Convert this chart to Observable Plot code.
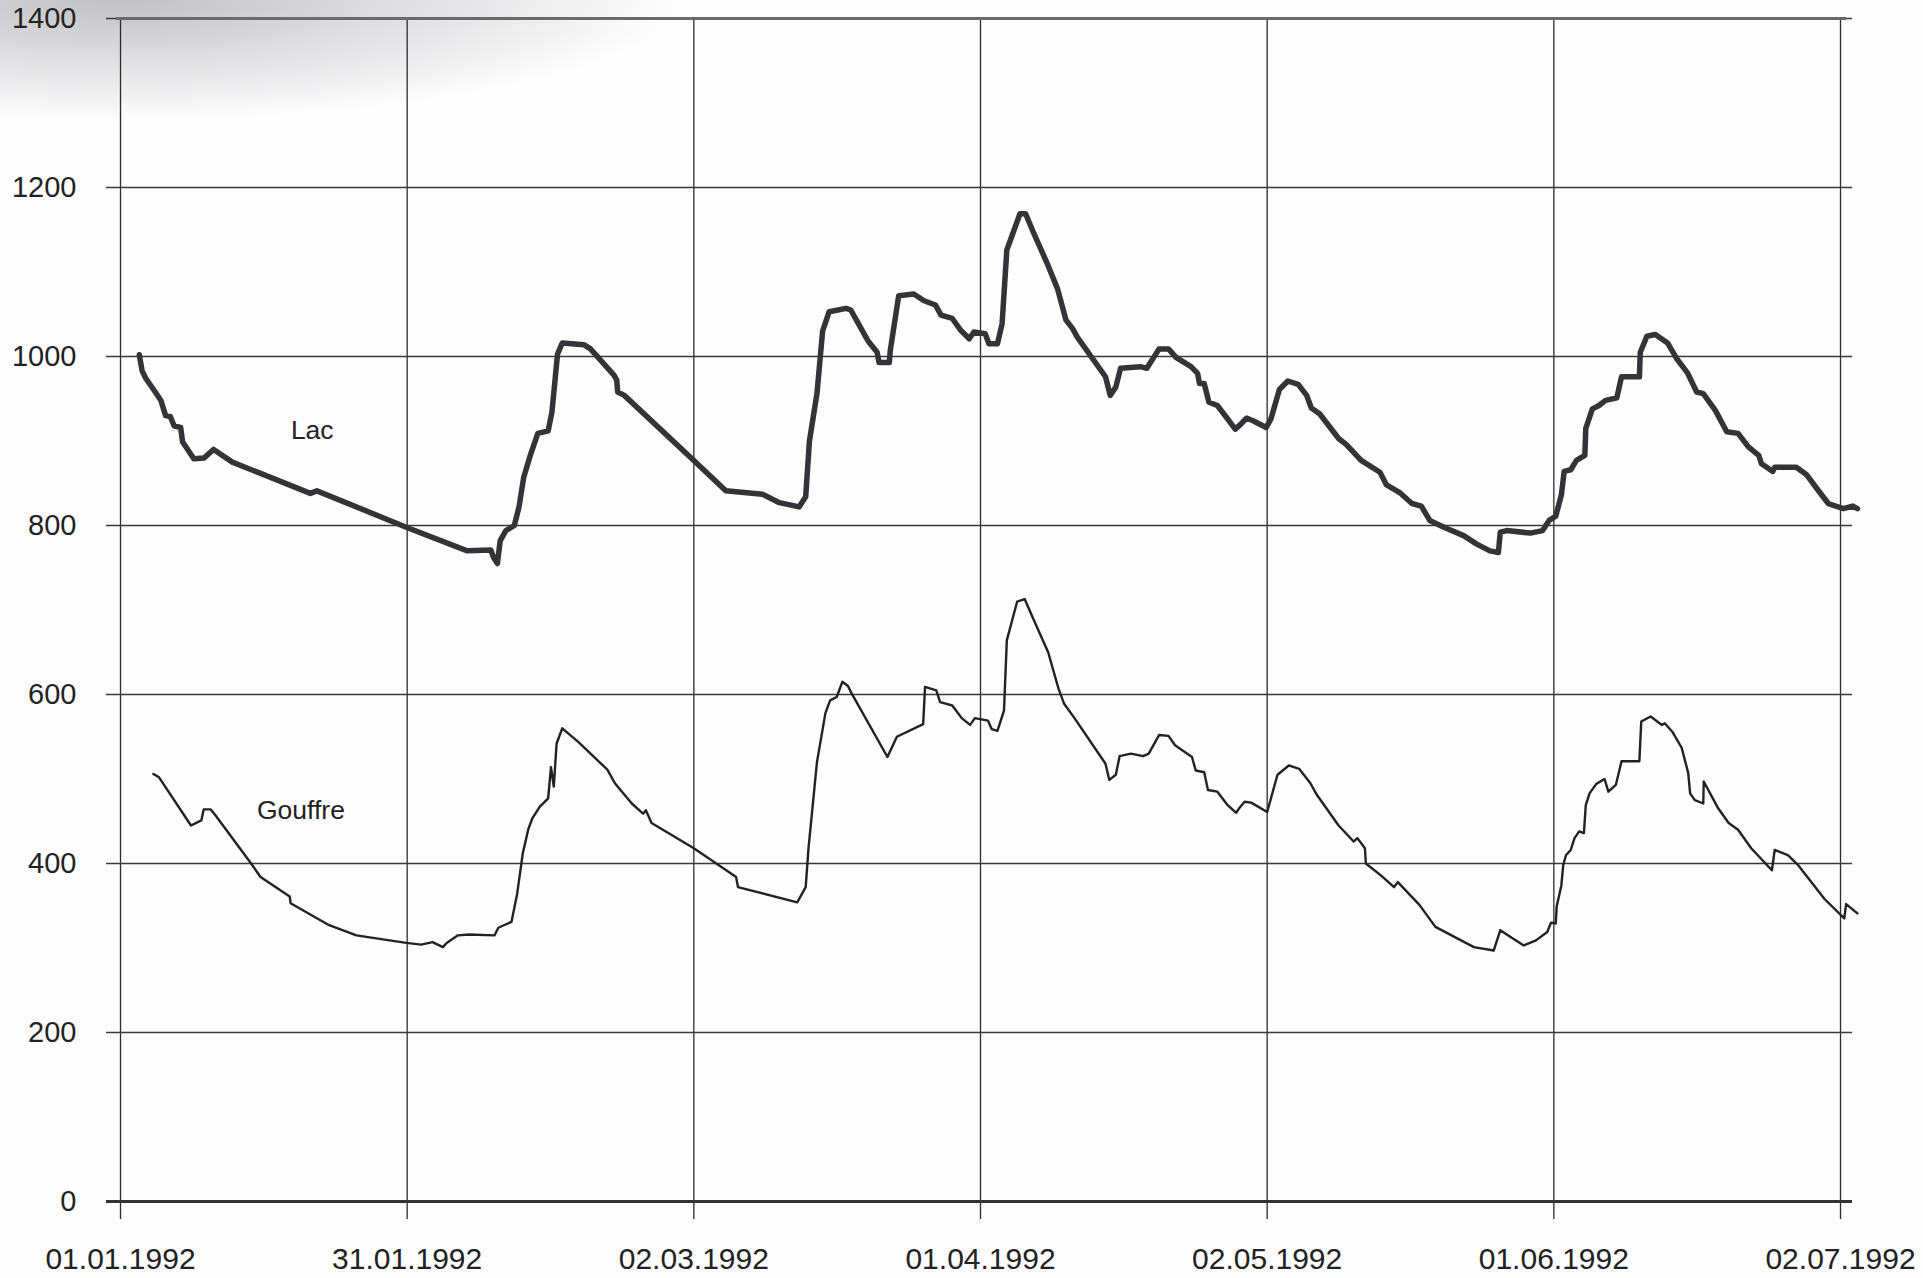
<!DOCTYPE html>
<html>
<head>
<meta charset="utf-8">
<script src="https://cdn.jsdelivr.net/npm/d3@7"></script>
<script src="https://cdn.jsdelivr.net/npm/@observablehq/plot@0.6"></script>
<style>
  html, body { margin: 0; padding: 0; background: #fdfdfe; }
  body {
    width: 1923px; height: 1278px; overflow: hidden;
    background:
      radial-gradient(ellipse 560px 120px at 120px 0px, rgba(110,110,115,0.42), rgba(110,110,115,0) 100%),
      #fdfdfe;
  }
  #chart svg { display: block; }
</style>
</head>
<body>
<div id="chart"></div>
<script>
// x positions are days since 01.01.1992 (00:00)
const xTicks = [0, 30.5, 61, 91.5, 122, 152.5, 183];
const xTickLabels = ["01.01.1992", "31.01.1992", "02.03.1992", "01.04.1992", "02.05.1992", "01.06.1992", "02.07.1992"];
const yTicks = [0, 200, 400, 600, 800, 1000, 1200, 1400];
const yTickLabels = ["0", "200", "400", "600", "800", "1000", "1200", "1400"];

const lacDay = [2.0, 2.3, 2.7, 3.7, 4.3, 4.8, 5.3, 5.7, 6.4, 6.6, 7.8, 8.9, 9.9, 11.9, 20.2, 20.9, 30.4, 36.9, 39.4, 39.7, 40.1, 40.4, 41.0, 41.9, 42.4, 42.9, 43.6, 44.4, 45.5, 45.9, 46.3, 46.5, 47.0, 49.3, 50.0, 52.5, 52.8, 52.9, 53.6, 60.8, 64.4, 68.3, 70.1, 72.2, 72.9, 73.3, 74.1, 74.7, 75.4, 77.2, 77.7, 79.5, 80.5, 80.7, 81.8, 81.9, 82.8, 84.4, 85.5, 86.7, 87.3, 88.5, 89.4, 90.3, 90.8, 92.0, 92.4, 93.3, 93.8, 94.3, 95.7, 96.3, 97.2, 98.6, 99.7, 100.6, 101.3, 101.8, 104.8, 105.3, 105.9, 106.4, 108.5, 109.2, 110.5, 111.5, 112.3, 113.9, 114.6, 114.8, 115.3, 115.8, 116.7, 117.8, 118.6, 119.2, 119.8, 120.5, 121.9, 122.4, 123.3, 124.2, 125.3, 126.2, 126.7, 127.6, 129.6, 130.4, 132.0, 134.0, 134.7, 136.1, 137.4, 138.4, 139.3, 140.8, 142.9, 144.3, 145.7, 146.6, 146.8, 147.5, 150.0, 151.3, 152.0, 152.7, 153.3, 153.6, 154.3, 154.9, 155.8, 155.9, 156.6, 157.3, 158.0, 159.2, 159.7, 161.6, 161.7, 162.4, 163.3, 164.6, 165.6, 166.7, 167.7, 168.4, 169.7, 170.9, 172.1, 173.2, 174.3, 174.6, 175.8, 176.0, 178.3, 179.4, 180.6, 181.7, 183.3, 184.3, 184.8];
const lacValue = [1002, 983, 974, 958, 948, 930, 929, 918, 916, 899, 879, 880, 890, 875, 838, 841, 798, 770, 771, 762, 755, 782, 794, 800, 822, 857, 883, 909, 912, 934, 980, 1003, 1016, 1014, 1009, 978, 972, 958, 954, 879, 841, 837, 827, 822, 834, 900, 956, 1030, 1053, 1057, 1055, 1019, 1005, 993, 993, 1007, 1072, 1074, 1066, 1061, 1049, 1045, 1031, 1021, 1029, 1027, 1015, 1015, 1039, 1126, 1169, 1169, 1145, 1110, 1080, 1043, 1033, 1023, 976, 954, 964, 986, 988, 986, 1009, 1009, 999, 988, 980, 968, 968, 946, 942, 926, 914, 920, 927, 924, 916, 926, 961, 971, 967, 954, 939, 932, 903, 896, 877, 863, 848, 839, 826, 823, 806, 798, 788, 778, 770, 768, 792, 794, 791, 794, 806, 811, 836, 864, 866, 877, 883, 915, 938, 942, 948, 951, 976, 976, 1005, 1024, 1026, 1016, 997, 981, 958, 956, 936, 911, 909, 893, 883, 873, 864, 869, 869, 860, 842, 826, 820, 823, 820];

const gouffreDay = [3.5, 4.1, 7.5, 8.6, 8.85, 9.6, 10.1, 13.9, 14.9, 18.0, 18.1, 22.2, 25.1, 30.4, 32.0, 33.2, 34.3, 34.7, 35.9, 37.1, 39.8, 40.2, 41.6, 42.2, 42.8, 43.4, 43.8, 44.6, 45.5, 45.8, 46.1, 46.4, 47.0, 48.7, 51.8, 52.6, 54.4, 55.6, 55.9, 56.5, 61.0, 65.5, 65.7, 72.0, 72.9, 73.2, 74.1, 75.0, 75.5, 76.2, 76.8, 77.4, 77.8, 81.6, 82.6, 85.4, 85.6, 86.8, 87.2, 88.5, 89.5, 90.4, 90.9, 92.3, 92.7, 93.3, 94.0, 94.3, 95.4, 96.2, 97.1, 98.7, 99.8, 100.4, 101.5, 104.8, 105.2, 105.9, 106.3, 107.5, 108.8, 109.4, 110.5, 111.5, 112.2, 114.0, 114.4, 115.3, 115.7, 116.7, 117.8, 118.7, 119.0, 119.6, 120.3, 122.0, 123.1, 124.3, 125.4, 126.6, 127.3, 129.6, 131.2, 131.6, 132.4, 132.5, 134.1, 135.5, 135.9, 138.2, 139.9, 144.0, 146.1, 146.8, 147.9, 149.3, 150.6, 151.8, 152.2, 152.7, 152.8, 153.3, 153.5, 153.8, 154.3, 154.7, 155.2, 155.7, 155.9, 156.3, 157.0, 157.9, 158.3, 159.1, 159.7, 161.6, 161.8, 162.8, 164.0, 164.3, 165.1, 166.1, 166.8, 167.0, 167.5, 168.4, 168.45, 170.0, 171.1, 172.1, 173.5, 175.7, 176.0, 177.4, 178.5, 181.3, 183.4, 183.6, 184.8];
const gouffreValue = [506, 502, 445, 451, 464, 464, 457, 400, 384, 361, 353, 327, 315, 306, 304, 307, 301, 306, 315, 316, 315, 324, 331, 364, 412, 441, 453, 467, 477, 514, 491, 542, 560, 544, 511, 495, 471, 459, 463, 448, 418, 384, 372, 354, 372, 418, 520, 578, 593, 597, 615, 610, 601, 526, 550, 565, 609, 605, 591, 587, 572, 564, 572, 569, 559, 557, 581, 664, 710, 713, 690, 650, 607, 589, 572, 518, 499, 505, 527, 530, 527, 530, 552, 551, 540, 526, 510, 508, 487, 485, 469, 460, 465, 473, 472, 461, 505, 516, 512, 495, 481, 445, 426, 430, 418, 400, 386, 372, 378, 351, 325, 301, 297, 321, 313, 303, 309, 319, 330, 329, 349, 374, 398, 410, 416, 430, 438, 436, 469, 483, 494, 500, 485, 493, 521, 521, 568, 574, 564, 566, 556, 537, 507, 483, 475, 471, 497, 465, 448, 440, 418, 392, 416, 410, 398, 358, 335, 352, 341];

const seriesNames = ["Lac", "Gouffre"];
const seriesLabelDay = [20.4, 19.2];
const seriesLabelValue = [912, 463];

const lac = lacDay.map((d, i) => ({day: d, value: lacValue[i]}));
const gouffre = gouffreDay.map((d, i) => ({day: d, value: gouffreValue[i]}));
const seriesLabels = seriesNames.map((n, i) => ({name: n, day: seriesLabelDay[i], value: seriesLabelValue[i]}));

const chart = Plot.plot({
  width: 1923,
  height: 1278,
  marginLeft: 120,
  marginRight: 83,
  marginTop: 18,
  marginBottom: 77,
  style: {
    fontFamily: "'Liberation Sans', Arial, sans-serif",
    fontSize: "29px",
    color: "#222",
    background: "transparent",
    overflow: "visible"
  },
  x: {type: "linear", domain: [0, 183], label: null},
  y: {domain: [0, 1400], label: null},
  marks: [
    Plot.gridX(xTicks, {stroke: "#2b2b2b", strokeOpacity: 1, strokeWidth: 1.3, insetBottom: -18}),
    Plot.gridY(yTicks, {stroke: "#3a3a3a", strokeOpacity: 1, strokeWidth: 1.5, insetLeft: -14, insetRight: -12}),
    Plot.ruleY([0], {stroke: "#333", strokeWidth: 2.8, insetLeft: -14, insetRight: -12}),
    Plot.ruleY([1400], {stroke: "#6a6a6a", strokeWidth: 3, insetLeft: -4, insetRight: -6}),
    Plot.axisX(xTicks, {tickSize: 0, tickPadding: 46, fontSize: 30, label: null,
      tickFormat: d => xTickLabels[xTicks.indexOf(d)]}),
    Plot.axisY(yTicks, {tickSize: 0, tickPadding: 44, fontSize: 29, label: null,
      tickFormat: d => yTickLabels[yTicks.indexOf(d)]}),
    Plot.line(gouffre, {x: "day", y: "value", stroke: "#222", strokeWidth: 2.4, strokeLinejoin: "round"}),
    Plot.line(lac, {x: "day", y: "value", stroke: "#343438", strokeWidth: 5.5, strokeLinejoin: "round", strokeLinecap: "round"}),
    Plot.text(seriesLabels, {x: "day", y: "value", text: "name", fontSize: 26.5, fill: "#222"})
  ]
});
document.getElementById("chart").appendChild(chart);
</script>
</body>
</html>
